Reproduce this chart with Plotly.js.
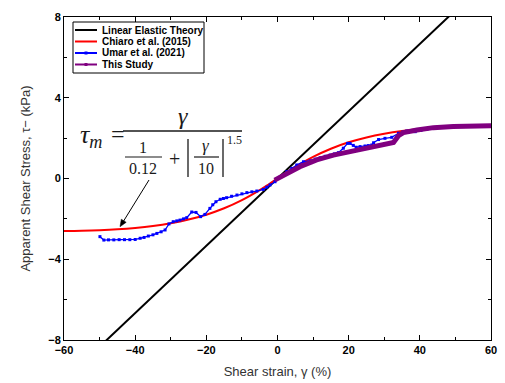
<!DOCTYPE html>
<html>
<head>
<meta charset="utf-8">
<script src="https://cdn.plot.ly/plotly-3.0.1.min.js"></script>
<style>html,body{margin:0;padding:0;background:#fff;}#chart{width:505px;height:383px;}</style>
</head>
<body>
<div id="chart"></div>
<script>
// ---- data ----
const seriesNames = ["Linear Elastic Theory", "Chiaro et al. (2015)", "Umar et al. (2021)", "This Study"];

const linearX = [-60, 60];
const linearY = [-10, 10];

const chiaroX = [-60, -55, -50, -45, -40, -35, -30, -25, -20, -15, -10, -5, -2.5, 0, 2.5, 5, 10, 15, 20, 25, 30, 35, 40, 45, 50, 55, 60];
const chiaroY = [-2.605, -2.590, -2.562, -2.517, -2.449, -2.352, -2.217, -2.035, -1.792, -1.475, -1.071, -0.576, -0.296, 0, 0.296, 0.576, 1.071, 1.475, 1.792, 2.035, 2.217, 2.352, 2.449, 2.517, 2.562, 2.590, 2.605];

const umarX = [-49.9, -48.8, -47.5, -46, -44.5, -43, -41.5, -40, -38.6, -37.5, -36.3, -35, -33.9, -32.7, -31.6, -30.5, -29.3, -28.3, -27.4, -26.4, -25.5, -24.1, -22.9, -21.6, -20.4, -19.0, -18.2, -17.3, -16.1, -15.2, -14.3, -12.9, -11.4, -10.0, -8.6, -7.2, -5.8, -4.0, -3.0, -2.1, -0.7, 0.8, 2.6, 4.0, 5.4, 7.3, 9.2, 10.6, 12.0, 13.4, 14.8, 16.0, 17.1, 18.5, 19.7, 20.4, 21.3, 22.1, 23.2, 24.6, 25.5, 26.5, 27.0, 28.4, 30.2, 32.1, 34.0, 35.2, 36.3, 37.5, 38.7, 40.3, 42.0, 43.6, 45.2, 46.5, 47.8];
const umarY = [-2.88, -3.05, -3.04, -3.04, -3.03, -3.03, -3.03, -3.02, -2.96, -2.92, -2.85, -2.79, -2.72, -2.64, -2.55, -2.25, -2.14, -2.10, -2.06, -2.00, -1.94, -1.66, -1.68, -1.89, -1.78, -1.48, -1.30, -1.15, -1.03, -0.99, -0.95, -0.88, -0.82, -0.76, -0.70, -0.66, -0.62, -0.54, -0.43, -0.32, -0.16, 0.10, 0.34, 0.50, 0.67, 0.83, 0.88, 0.96, 1.03, 1.10, 1.16, 1.22, 1.28, 1.50, 1.74, 1.74, 1.64, 1.55, 1.58, 1.61, 1.63, 1.66, 1.77, 1.93, 1.99, 2.04, 2.24, 2.30, 2.35, 2.33, 2.32, 2.38, 2.44, 2.50, 2.57, 2.57, 2.57];

const studyX = [-0.8, 2.6, 6.3, 11.0, 15.7, 20.4, 25.1, 28.4, 31.2, 32.6, 34.0, 35.4, 39.2, 43.8, 49.4, 54.1, 60];
const studyY = [-0.08, 0.26, 0.58, 0.92, 1.16, 1.33, 1.50, 1.61, 1.72, 1.78, 2.12, 2.27, 2.40, 2.52, 2.57, 2.60, 2.61];

const xTicks = [-60, -40, -20, 0, 20, 40, 60];
const yTicks = [-8, -4, 0, 4, 8];

// ---- layout helpers (pixel -> paper) ----
const L = 64, R = 491, T = 17, B = 340;
const px = x => (x - L) / (R - L);
const py = y => (B - y) / (B - T);

const colors = ["#000000", "#ff0000", "#0000ff", "#800080"];

const traces = [
  {x: linearX, y: linearY, mode: "lines", name: seriesNames[0], line: {color: colors[0], width: 2}},
  {x: chiaroX, y: chiaroY, mode: "lines", name: seriesNames[1], line: {color: colors[1], width: 2, shape: "spline"}},
  {x: umarX, y: umarY, mode: "lines+markers", name: seriesNames[2], line: {color: colors[2], width: 1.3}, marker: {symbol: "square", size: 3, color: colors[2]}},
  {x: studyX, y: studyY, mode: "lines", name: seriesNames[3], line: {color: colors[3], width: 5}}
];

const serif = "Liberation Serif";
const ink = "#1a1a1a";
const shapes = [];
const annotations = [];

function txt(x, y, text, size, opts) {
  annotations.push(Object.assign({xref: "paper", yref: "paper", x: px(x), y: py(y), text: text, showarrow: false,
    xanchor: "center", yanchor: "middle", font: {family: serif, size: size, color: ink}}, opts || {}));
}
function hline(x0, x1, y, w) {
  shapes.push({type: "line", xref: "paper", yref: "paper", x0: px(x0), x1: px(x1), y0: py(y), y1: py(y), line: {color: ink, width: w || 1.5}});
}
function vline(x, y0, y1, w) {
  shapes.push({type: "line", xref: "paper", yref: "paper", x0: px(x), x1: px(x), y0: py(y0), y1: py(y1), line: {color: ink, width: w || 1.3}});
}

// formula
txt(91, 136, "<i>τ</i><sub><i>m</i></sub>", 26);
txt(118, 134, "=", 24);
hline(123, 242, 131);
txt(183, 116, "<i>γ</i>", 24);
txt(143, 147, "1", 16);
hline(125, 162, 157, 1.2);
txt(143, 168, "0.12", 16);
txt(174, 159, "+", 20);
vline(188, 139, 177);
vline(223, 139, 177);
txt(206, 146, "<i>γ</i>", 17);
hline(194, 219, 157, 1.2);
txt(206, 168, "10", 16);
txt(234, 140, "1.5", 12);

// arrow (line + head) pointing at the Chiaro curve
const tip = [120, 226.7], tail = [149, 180];
shapes.push({type: "line", xref: "paper", yref: "paper", x0: px(tail[0]), y0: py(tail[1]), x1: px(122.5), y1: py(222.8), line: {color: "#000", width: 1}});
shapes.push({type: "path", xref: "paper", yref: "paper",
  path: "M " + px(tip[0]) + " " + py(tip[1]) + " L " + px(126.2) + " " + py(222.3) + " L " + px(121.3) + " " + py(219.2) + " Z",
  fillcolor: "#000", line: {color: "#000", width: 0.5}});

// manual legend
shapes.push({type: "rect", xref: "paper", yref: "paper", x0: px(73), x1: px(204), y0: py(22), y1: py(73), line: {color: "#000", width: 1}, fillcolor: "rgba(255,255,255,0)"});
const rowY = [30, 41.5, 53, 64.5];
seriesNames.forEach((n, i) => {
  shapes.push({type: "line", xref: "paper", yref: "paper", x0: px(75), x1: px(97), y0: py(rowY[i]), y1: py(rowY[i]), line: {color: colors[i], width: 2}});
  if (i >= 2) {
    shapes.push({type: "rect", xref: "paper", yref: "paper", x0: px(84.5), x1: px(87.5), y0: py(rowY[i] - 1.5), y1: py(rowY[i] + 1.5), line: {width: 0}, fillcolor: colors[i]});
  }
  annotations.push({xref: "paper", yref: "paper", x: px(100), y: py(rowY[i]), text: "<b>" + n + "</b>", showarrow: false,
    xanchor: "left", yanchor: "middle", font: {family: "Liberation Sans", size: 10, color: "#000"}});
});

const axisCommon = {
  showline: true, linecolor: "#000", linewidth: 1, mirror: "ticks",
  ticks: "inside", ticklen: 5, tickwidth: 1, tickcolor: "#000",
  showgrid: false, zeroline: false,
  tickfont: {family: "Liberation Sans", size: 11, color: "#000", weight: "bold"}
};

const layout = {
  width: 505, height: 383,
  margin: {l: L, r: 505 - R, t: T, b: 383 - B, pad: 0},
  paper_bgcolor: "#fff", plot_bgcolor: "#fff",
  showlegend: false,
  xaxis: Object.assign({}, axisCommon, {
    range: [-60, 60], tickvals: xTicks, ticktext: xTicks.map(v => v < 0 ? "−" + (-v) : String(v)),
    minor: {ticks: "inside", ticklen: 3, tickcolor: "#000", dtick: 10, tick0: 0},
    title: {text: "Shear strain, γ (%)", font: {family: "Liberation Sans", size: 13, color: "#333"}, standoff: 11}
  }),
  yaxis: Object.assign({}, axisCommon, {
    range: [-8, 8], tickvals: yTicks, ticktext: yTicks.map(v => v < 0 ? "−" + (-v) : String(v)),
    minor: {ticks: "inside", ticklen: 3, tickcolor: "#000", dtick: 2, tick0: 0},
    title: {text: "Apparent Shear Stress, τ− (kPa)", font: {family: "Liberation Sans", size: 13, color: "#333"}, standoff: 14}
  }),
  shapes: shapes,
  annotations: annotations
};

Plotly.newPlot("chart", traces, layout, {staticPlot: true, displayModeBar: false});
</script>
</body>
</html>
